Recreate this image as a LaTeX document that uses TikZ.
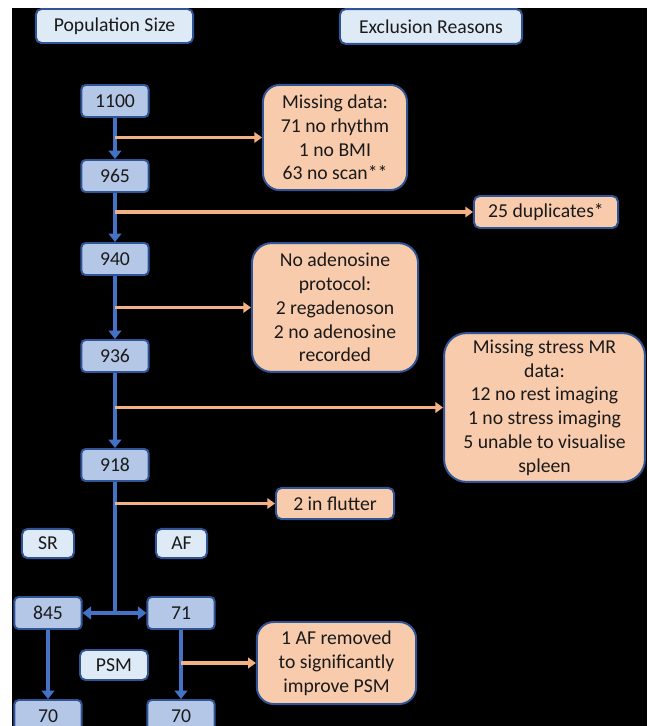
\documentclass[tikz,border=0pt]{standalone}
\usepackage{fontspec}
\setmainfont{Carlito}
\usepackage{xcolor}
\usetikzlibrary{arrows.meta}

\definecolor{numfill}{HTML}{B4C7E7}
\definecolor{headfill}{HTML}{DEEBF7}
\definecolor{boxedge}{HTML}{2F5597}
\definecolor{flowblue}{HTML}{4472C4}
\definecolor{exclfill}{HTML}{F8CBAD}
\definecolor{exclline}{HTML}{F4B183}
\definecolor{inktext}{HTML}{1A1A1A}

\begin{document}
\begin{tikzpicture}[x=0.025cm, y=-0.025cm,
        every node/.style={font=\fontsize{14}{16.9}\selectfont, text=inktext, align=center, inner sep=1pt},
        numbox/.style={draw=boxedge, line width=1.4pt, fill=numfill, rounded corners=3pt, minimum width=1.68cm, minimum height=0.8cm},
        headbox/.style={draw=boxedge, line width=1.4pt, fill=headfill, rounded corners=4pt},
        exclbox/.style={draw=boxedge, line width=1.4pt, fill=exclfill, rounded corners=#1},
        exclbox/.default=10pt,
        flow/.style={draw=flowblue, line width=2.6pt, -{Triangle[width=9pt,length=6pt]}},
        drop/.style={draw=exclline, line width=2.3pt, -{Triangle[width=7.5pt,length=5.5pt]}}]
        % Note the picture is laid out in pixels of the reference, y down
        \useasboundingbox (0,0) rectangle (647,726);
        \fill[black] (12,8) rectangle (647,726);

        % Column headers
        \node[headbox, minimum width=3.93cm, minimum height=0.85cm] (pop) at (114.5,26) {Population Size};
        \node[headbox, minimum width=4.55cm, minimum height=0.87cm] (exhead) at (431,26.5) {Exclusion Reasons};

        % Population counts down the left
        \node[numbox] (n1100) at (115,101) {1100};
        \node[numbox] (n965) at (115,176) {965};
        \node[numbox] (n940) at (115,259) {940};
        \node[numbox] (n936) at (115,356) {936};
        \node[numbox] (n918) at (115,465) {918};
        \node[numbox] (n845) at (48,613) {845};
        \node[numbox] (n71) at (181,613) {71};
        \node[numbox] (n70sr) at (48,716) {70};
        \node[numbox] (n70af) at (181,716) {70};

        % Group labels
        \node[headbox, minimum width=1.3cm, minimum height=0.73cm] (sr) at (48,543.5) {SR};
        \node[headbox, minimum width=1.28cm, minimum height=0.73cm] (af) at (181.5,543.5) {AF};
        \node[headbox, minimum width=1.7cm, minimum height=0.75cm] (psm) at (114,665) {PSM};

        % Exclusion boxes on the right
        \node[exclbox=12pt, minimum width=3.6cm, minimum height=2.63cm] (missing) at (335,137.5)
            {Missing data:\\71 no rhythm\\1 no BMI\\63 no scan**};
        \node[exclbox=4pt, minimum width=3.6cm, minimum height=0.8cm] (dupl) at (546,212) {25 duplicates*};
        \node[exclbox=14pt, minimum width=4.15cm, minimum height=3.22cm] (adeno) at (335,307.5)
            {No adenosine\\protocol:\\2 regadenoson\\2 no adenosine\\recorded};
        \node[exclbox=16pt, minimum width=5.02cm, minimum height=3.72cm] (stress) at (544.5,407.5)
            {Missing stress MR\\data:\\12 no rest imaging\\1 no stress imaging\\5 unable to visualise\\spleen};
        \node[exclbox=4pt, minimum width=2.95cm, minimum height=0.78cm] (flutter) at (335,503.5) {2 in flutter};
        \node[exclbox=12pt, minimum width=3.98cm, minimum height=2.05cm] (removed) at (336.5,663)
            {1 AF removed\\to significantly\\improve PSM};

        % Main flow
        \draw[flow] (n1100) -- (n965);
        \draw[flow] (n965) -- (n940);
        \draw[flow] (n940) -- (n936);
        \draw[flow] (n936) -- (n918);
        \draw[flow, -] (n918) -- (n918 |- n845);
        \draw[flow, {Triangle[width=9pt,length=6pt]}-{Triangle[width=9pt,length=6pt]}] (n845) -- (n71);
        \draw[flow] (n845) -- (n70sr);
        \draw[flow] (n71) -- (n70af);

        % Exclusions branching off
        \draw[drop] (n1100.south |- missing.west) -- (missing.west);
        \draw[drop] (n965.south |- dupl.west) -- (dupl.west);
        \draw[drop] (n940.south |- adeno.west) -- (adeno.west);
        \draw[drop] (n936.south |- stress.west) -- (stress.west);
        \draw[drop] (n918.south |- flutter.west) -- (flutter.west);
        \draw[drop] (n71.south |- removed.west) -- (removed.west);
\end{tikzpicture}
\end{document}
